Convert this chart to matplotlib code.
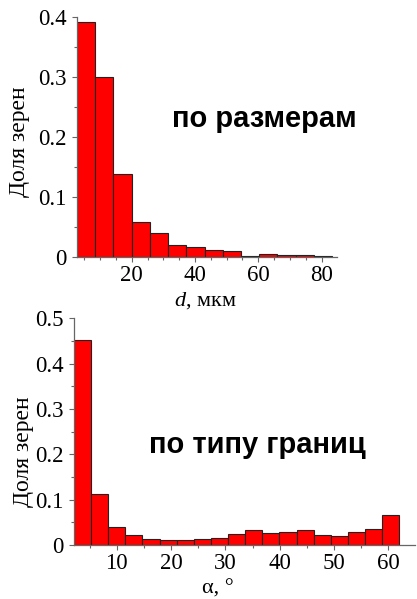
import numpy as np
import matplotlib
matplotlib.use("Agg")
import matplotlib.pyplot as plt
from matplotlib.ticker import MultipleLocator

# grain-size histogram (d, um)
size_start = 2.7
size_width = 5.76
size_frac = [0.392, 0.300, 0.138, 0.058, 0.0405, 0.0195, 0.017,
             0.011, 0.0095, 0.002, 0.005, 0.003, 0.003, 0.002]
size_ticks = [20, 40, 60, 80]

# misorientation histogram (alpha, deg)
ang_start = 2.14
ang_width = 3.15
ang_frac = [0.452, 0.1125, 0.0404, 0.0213, 0.0125, 0.0103, 0.0118,
            0.0132, 0.0147, 0.0235, 0.0338, 0.0272, 0.0287, 0.0338,
            0.0228, 0.0199, 0.028, 0.036, 0.066]
ang_ticks = [10, 20, 30, 40, 50, 60]

SERIF = "Liberation Serif"
SANS = "Liberation Sans"
TICK_FS = 16.5

plt.rcParams["mathtext.fontset"] = "custom"
plt.rcParams["mathtext.rm"] = SERIF
plt.rcParams["mathtext.it"] = SERIF + ":italic"


def hist_panel(ax, start, width, vals, xlim, ylim, yticks, xticks, xminor):
    edges = start + width * np.arange(len(vals))
    ax.bar(edges, vals, width=width, align="edge", color="#ff0000",
           edgecolor="#222222", linewidth=0.8, zorder=2)
    ax.set_xlim(*xlim)
    ax.set_ylim(*ylim)
    ax.set_yticks(yticks)
    ax.set_yticklabels(["0" if v == 0 else f"{v:g}" for v in yticks])
    ax.set_xticks(xticks)
    ax.xaxis.set_minor_locator(MultipleLocator(xminor))
    ax.yaxis.set_minor_locator(MultipleLocator(0.05))
    for s in ("top", "right"):
        ax.spines[s].set_visible(False)
    for s in ("left", "bottom"):
        ax.spines[s].set_color("#666666")
        ax.spines[s].set_linewidth(0.9)
    ax.tick_params(which="both", direction="out", color="#666666",
                   labelsize=TICK_FS, width=0.8)
    ax.tick_params(which="major", length=3.5)
    ax.tick_params(which="minor", length=2.5)
    ax.tick_params(axis="y", pad=4)
    ax.tick_params(axis="x", pad=2.5)
    for lab in ax.get_xticklabels() + ax.get_yticklabels():
        lab.set_fontfamily(SERIF)


fig = plt.figure(figsize=(4.17, 5.99), dpi=100)

ax1 = fig.add_axes([0.1847, 0.5710, 0.6235, 0.4007])
hist_panel(ax1, size_start, size_width, size_frac, (2.7, 84.9), (0, 0.4),
           [0, 0.1, 0.2, 0.3, 0.4], size_ticks, 5)
ax1.text(0.719, 0.542, "по размерам", transform=ax1.transAxes,
         ha="center", va="baseline", fontsize=21, fontweight="bold",
         family=SANS)

ax2 = fig.add_axes([0.1775, 0.0902, 0.8180, 0.3785])
hist_panel(ax2, ang_start, ang_width, ang_frac, (2.14, 64.9), (0, 0.5),
           [0, 0.1, 0.2, 0.3, 0.4, 0.5], ang_ticks, 5)
ax2.text(0.538, 0.407, "по типу границ", transform=ax2.transAxes,
         ha="center", va="baseline", fontsize=21, fontweight="bold",
         family=SANS)

# axis titles
fig.text(20 / 417, 1 - 142 / 599, "Доля зерен", rotation=90,
         ha="center", va="center", fontsize=17, family=SERIF)
fig.text(23 / 417, 1 - 452 / 599, "Доля зерен", rotation=90,
         ha="center", va="center", fontsize=17, family=SERIF)
fig.text(205 / 417, 1 - 306 / 599, r"$\it{d}$, мкм",
         ha="center", va="baseline", fontsize=16, family=SERIF)
fig.text(218 / 417, 1 - 594 / 599, "α, °",
         ha="center", va="baseline", fontsize=16, family=SERIF)

fig.savefig("out.png", dpi=100)
